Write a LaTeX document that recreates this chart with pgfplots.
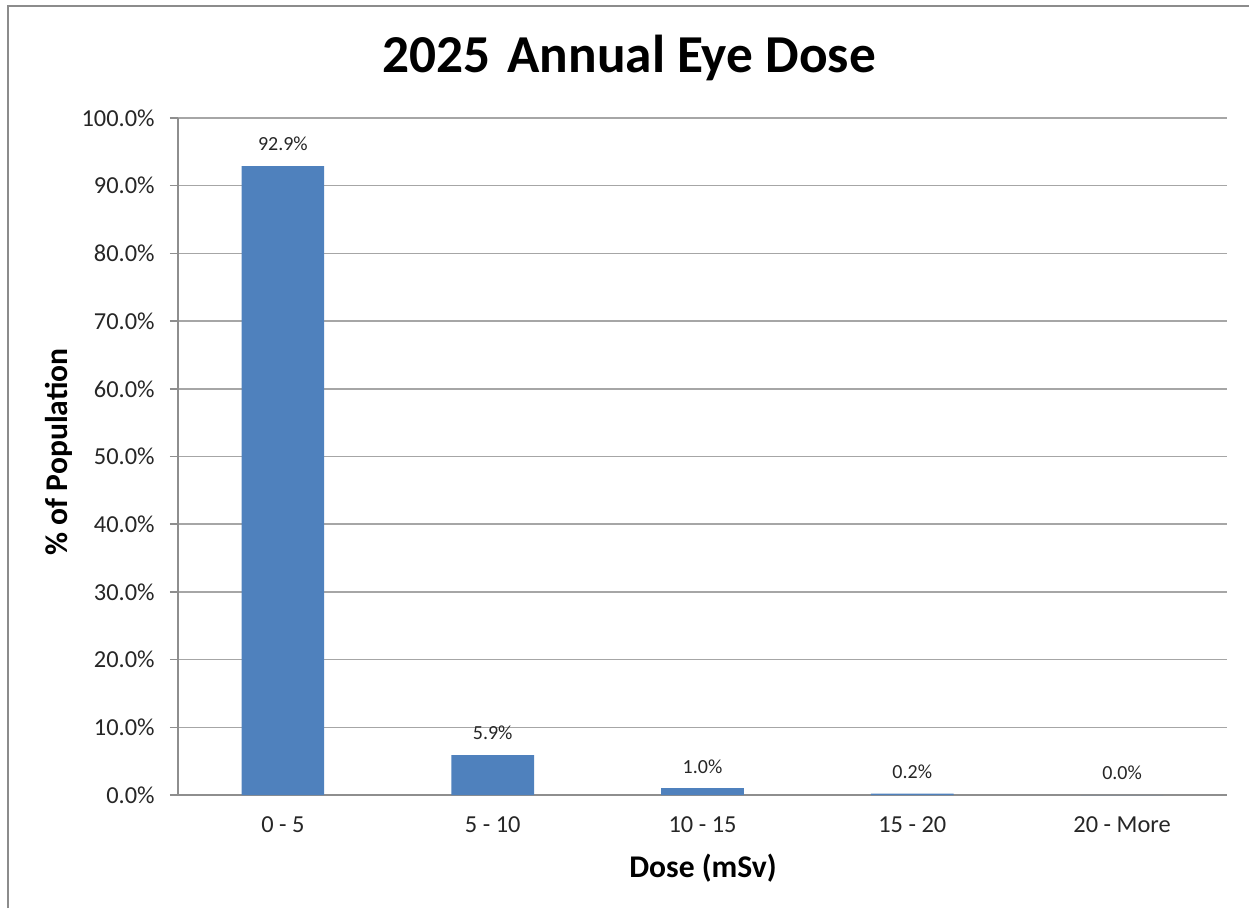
\documentclass[border=0pt]{standalone}
\usepackage{pgfplots}
\pgfplotsset{compat=1.18}
\usepackage{fontspec}
\setmainfont{Carlito}
\definecolor{barblue}{HTML}{4F81BD}
\definecolor{gridgray}{HTML}{A6A6A6}
\definecolor{axisgray}{HTML}{8E8E8E}
\definecolor{framegray}{HTML}{8C8C8C}
\begin{document}
\begin{tikzpicture}[x=0.75pt,y=0.75pt]
\path[use as bounding box] (0,0) rectangle (1249,908);
\draw[framegray, line width=1.5pt] (8,0) -- (8,902) -- (1249,902);
\begin{axis}[
  at={(133.5pt,84.75pt)}, anchor=south west,
  scale only axis, width=786.75pt, height=507.75pt,
  xmin=-0.5, xmax=4.5, ymin=0, ymax=100,
  axis x line*=bottom, axis y line*=left,
  axis line style={axisgray, line width=1.2pt},
  x axis line style={-}, y axis line style={-},
  xtick={0,1,2,3,4},
  xticklabels={0 - 5, 5 - 10, 10 - 15, 15 - 20, 20 - More},
  x tick style={draw=none},
  minor xtick={-0.5,0.5,1.5,2.5,3.5,4.5},
  minor x tick style={axisgray, line width=1.2pt},
  minor tick length=4.5pt,
  ytick={0,10,...,100},
  yticklabels={0.0\%,10.0\%,20.0\%,30.0\%,40.0\%,50.0\%,60.0\%,70.0\%,80.0\%,90.0\%,100.0\%},
  y tick style={axisgray, line width=1.2pt},
  major tick length=6pt,
  tick align=outside,
  ymajorgrids, major grid style={gridgray, line width=1.2pt},
  tick label style={font=\fontsize{18.3}{22}\selectfont, text=black!85},
  xticklabel style={yshift=-7pt},
  yticklabel style={xshift=-8pt},
  /pgf/number format/assume math mode=true,
  clip=false,
]
\addplot[ybar, bar width=62pt, fill=barblue, draw=none,
  nodes near coords={\pgfmathprintnumber[fixed,fixed zerofill,precision=1]{\pgfplotspointmeta}\%},
  every node near coord/.append style={font=\fontsize{15}{18}\selectfont, text=black!85, anchor=south, inner sep=0pt, yshift=11pt}]
  coordinates {(0,92.9) (1,5.9) (2,1.0) (3,0.2) (4,0.0)};
\end{axis}
\node[font=\fontsize{40}{48}\selectfont\bfseries, anchor=base] at (629,835) {2025\hspace{0.32em}Annual Eye Dose};
\node[font=\fontsize{23.7}{28}\selectfont\bfseries, anchor=base] at (703,31) {Dose (mSv)};
\node[font=\fontsize{23.7}{28}\selectfont\bfseries, anchor=base, rotate=90] at (67,456) {\% of Population};
\end{tikzpicture}
\end{document}
